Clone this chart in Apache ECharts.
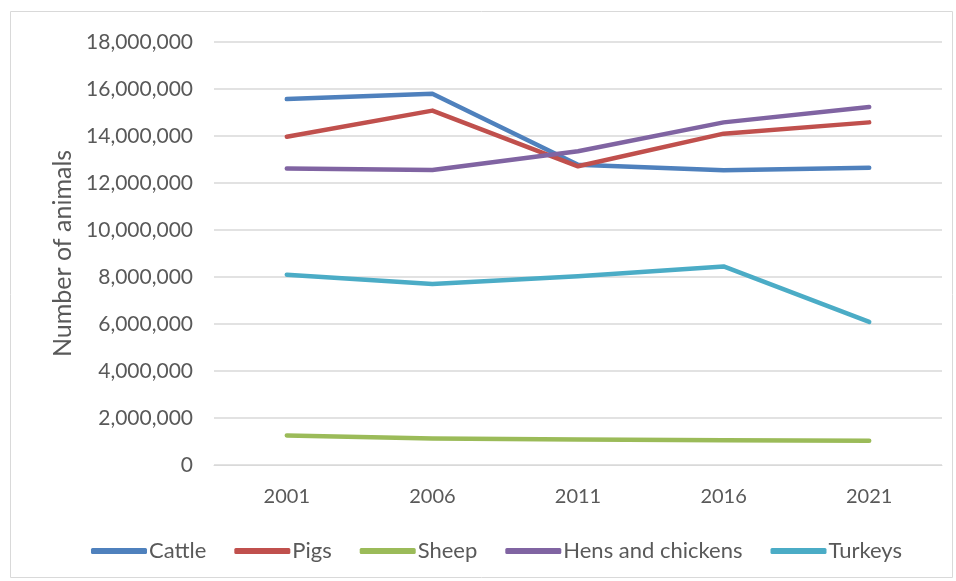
<!DOCTYPE html>
<html>
<head>
<meta charset="utf-8">
<script src="https://cdn.jsdelivr.net/npm/echarts@6/dist/echarts.min.js"></script>
<style>
  html, body { margin: 0; padding: 0; background: #fff; }
  #chart { width: 956px; height: 581px; }
</style>
</head>
<body>
<div id="chart"></div>
<script>
// Livestock numbers by census year
const years = ['2001', '2006', '2011', '2016', '2021'];
const cattle = [15570000, 15800000, 12780000, 12540000, 12650000];
const pigs = [13970000, 15080000, 12710000, 14100000, 14580000];
const sheep = [1260000, 1130000, 1090000, 1050000, 1030000];
const hens = [12620000, 12550000, 13350000, 14580000, 15230000];
const turkeys = [8100000, 7700000, 8030000, 8450000, 6090000];

const seriesNames = ['Cattle', 'Pigs', 'Sheep', 'Hens and chickens', 'Turkeys'];
const seriesData = [cattle, pigs, sheep, hens, turkeys];
const colors = ['#4f81bd', '#c0504d', '#9bbb59', '#8064a2', '#4bacc6'];

const font = 'Lato, "Open Sans", sans-serif';
const chart = echarts.init(document.getElementById('chart'), null, { renderer: 'canvas' });

chart.setOption({
  animation: false,
  color: colors,
  graphic: [{
    type: 'rect',
    shape: { x: 10.5, y: 11.5, width: 942, height: 566 },
    style: { fill: 'none', stroke: '#d9d9d9', lineWidth: 1 },
    silent: true
  }],
  grid: { left: 214, right: 14, top: 42, bottom: 116, containLabel: false },
  legend: {
    top: 535,
    left: 86,
    itemWidth: 56,
    itemHeight: 6,
    itemGap: 28,
    icon: 'roundRect',
    textStyle: { fontFamily: font, fontSize: 22, color: '#595959', padding: [0, 0, 0, -3] },
    data: seriesNames
  },
  xAxis: {
    type: 'category',
    data: years,
    boundaryGap: true,
    axisLine: { show: true, lineStyle: { color: '#d9d9d9', width: 1 } },
    axisTick: { show: false },
    axisLabel: { fontFamily: font, fontSize: 20, color: '#595959', margin: 22 }
  },
  yAxis: {
    type: 'value',
    min: 0,
    max: 18000000,
    interval: 2000000,
    name: 'Number of animals',
    nameLocation: 'middle',
    nameGap: 138,
    nameTextStyle: { fontFamily: font, fontSize: 25, color: '#595959' },
    axisLine: { show: false },
    axisTick: { show: false },
    splitLine: { lineStyle: { color: '#d9d9d9', width: 1.5 } },
    axisLabel: {
      fontFamily: font, fontSize: 21, color: '#595959', margin: 21,
      formatter: v => v.toLocaleString('en-US')
    }
  },
  series: seriesNames.map((name, i) => ({
    name: name,
    type: 'line',
    data: seriesData[i],
    symbol: 'none',
    lineStyle: { width: 4.5, cap: 'round', join: 'round' }
  }))
});
</script>
</body>
</html>
